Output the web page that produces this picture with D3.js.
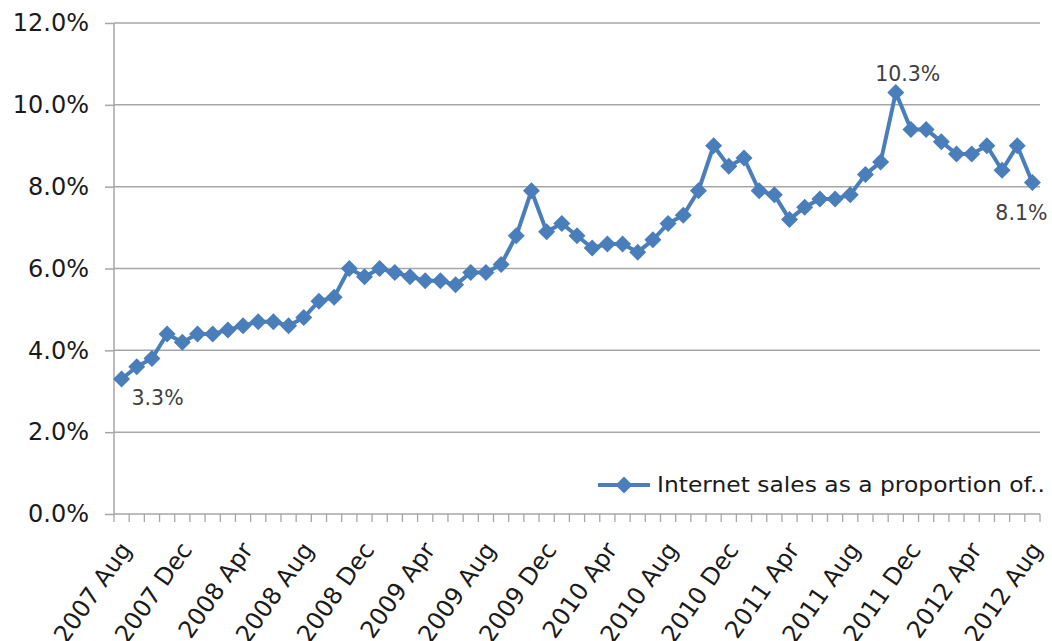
<!DOCTYPE html>
<html lang="en">
<head>
    <meta charset="UTF-8">
    <title>Internet sales</title>
    <script src="https://d3js.org/d3.v7.min.js"></script>
    <style>
        body { margin: 0; background: #fff; }
        text { font-family: "DejaVu Sans", Verdana, sans-serif; }
    </style>
</head>
<body>
    <svg></svg>

    <script>
        // months on the category axis
        const months = [
            "2007 Aug","2007 Sep","2007 Oct","2007 Nov","2007 Dec",
            "2008 Jan","2008 Feb","2008 Mar","2008 Apr","2008 May","2008 Jun","2008 Jul","2008 Aug","2008 Sep","2008 Oct","2008 Nov","2008 Dec",
            "2009 Jan","2009 Feb","2009 Mar","2009 Apr","2009 May","2009 Jun","2009 Jul","2009 Aug","2009 Sep","2009 Oct","2009 Nov","2009 Dec",
            "2010 Jan","2010 Feb","2010 Mar","2010 Apr","2010 May","2010 Jun","2010 Jul","2010 Aug","2010 Sep","2010 Oct","2010 Nov","2010 Dec",
            "2011 Jan","2011 Feb","2011 Mar","2011 Apr","2011 May","2011 Jun","2011 Jul","2011 Aug","2011 Sep","2011 Oct","2011 Nov","2011 Dec",
            "2012 Jan","2012 Feb","2012 Mar","2012 Apr","2012 May","2012 Jun","2012 Jul","2012 Aug"
        ];
        // internet sales share, percent
        const share = [
            3.3, 3.6, 3.8, 4.4, 4.2,
            4.4, 4.4, 4.5, 4.6, 4.7, 4.7, 4.6, 4.8, 5.2, 5.3, 6.0, 5.8,
            6.0, 5.9, 5.8, 5.7, 5.7, 5.6, 5.9, 5.9, 6.1, 6.8, 7.9, 6.9,
            7.1, 6.8, 6.5, 6.6, 6.6, 6.4, 6.7, 7.1, 7.3, 7.9, 9.0, 8.5,
            8.7, 7.9, 7.8, 7.2, 7.5, 7.7, 7.7, 7.8, 8.3, 8.6, 10.3, 9.4,
            9.4, 9.1, 8.8, 8.8, 9.0, 8.4, 9.0, 8.1
        ];
        const yTicks = [0, 2, 4, 6, 8, 10, 12];
        const xLabels = months.filter((d, i) => i % 4 === 0);
        const labelled = ["2007 Aug", "2011 Nov", "2012 Aug"];
        const seriesName = "Internet sales as a proportion of..";

        const width = 1052, height = 641;
        const margin = {top: 23, bottom: 127, left: 114, right: 12};
        const blue = "#4a7ebb", grid = "#a6a6a6";

        const svg = d3.select("svg")
            .attr("width", width)
            .attr("height", height)
            .attr("viewBox", [0, 0, width, height]);

        const x = d3.scaleBand().domain(months).range([margin.left, width - margin.right]).padding(0);
        const y = d3.scaleLinear().domain([0, 12]).range([height - margin.bottom, margin.top]);
        const cx = d => x(d) + x.bandwidth() / 2;

        // gridlines
        svg.append("g")
            .selectAll("line")
            .data(yTicks.filter(t => t > 0))
            .join("line")
            .attr("x1", margin.left).attr("x2", width - margin.right)
            .attr("y1", d => y(d)).attr("y2", d => y(d))
            .attr("stroke", grid).attr("stroke-width", 1.5);

        // y axis
        const yAxis = svg.append("g")
            .attr("transform", `translate(${margin.left},0)`)
            .call(d3.axisLeft(y).tickValues(yTicks).tickSize(9).tickPadding(16).tickFormat(d => d.toFixed(1) + "%"));
        yAxis.selectAll("line, path").attr("stroke", grid).attr("stroke-width", 1.5);
        yAxis.select("path").attr("d", `M0,${y(0)}V${y(12)}`);
        yAxis.selectAll("text").attr("font-size", 24).attr("fill", "#1a1a1a")
            .attr("font-family", "DejaVu Sans");

        // x axis: ticks at category boundaries, labels every 4 months
        const base = y(0);
        const xg = svg.append("g");
        xg.append("line")
            .attr("x1", margin.left).attr("x2", width - margin.right)
            .attr("y1", base).attr("y2", base)
            .attr("stroke", grid).attr("stroke-width", 1.5);
        xg.selectAll("line.tick")
            .data(months.map(d => x(d)).concat([x.range()[1]]))
            .join("line")
            .attr("class", "tick")
            .attr("x1", d => d).attr("x2", d => d)
            .attr("y1", base).attr("y2", base + 8)
            .attr("stroke", grid).attr("stroke-width", 1.3);
        xg.selectAll("text")
            .data(xLabels)
            .join("text")
            .attr("transform", d => `translate(${cx(d) + 4},${base + 31}) rotate(-55)`)
            .attr("text-anchor", "end")
            .attr("dy", "0.35em")
            .attr("font-size", 24)
            .attr("fill", "#1a1a1a")
            .text(d => d);

        // series
        const line = d3.line().x((d, i) => cx(months[i])).y(d => y(d));
        svg.append("path")
            .datum(share)
            .attr("d", line)
            .attr("fill", "none")
            .attr("stroke", blue)
            .attr("stroke-width", 4)
            .attr("stroke-linejoin", "round");

        const r = 8.5;
        const diamond = `M0,${-r}L${r},0L0,${r}L${-r},0Z`;
        svg.append("g")
            .selectAll("path")
            .data(share)
            .join("path")
            .attr("transform", (d, i) => `translate(${cx(months[i])},${y(d)})`)
            .attr("d", diamond)
            .attr("fill", blue);

        // data labels
        const labelPos = {
            "2007 Aug": {dx: 36, dy: 26},
            "2011 Nov": {dx: 12, dy: -12},
            "2012 Aug": {dx: -11, dy: 37}
        };
        svg.append("g")
            .selectAll("text")
            .data(labelled)
            .join("text")
            .attr("x", d => cx(d) + labelPos[d].dx)
            .attr("y", d => y(share[months.indexOf(d)]) + labelPos[d].dy)
            .attr("text-anchor", "middle")
            .attr("font-size", 20.5)
            .attr("fill", "#404040")
            .text(d => share[months.indexOf(d)].toFixed(1) + "%");

        // legend
        const lg = svg.append("g").attr("transform", "translate(598,485)");
        lg.append("line").attr("x1", 0).attr("x2", 52)
            .attr("stroke", blue).attr("stroke-width", 4);
        lg.append("path").attr("transform", "translate(26,0)").attr("d", diamond).attr("fill", blue);
        lg.append("text").attr("x", 59).attr("dy", "0.35em")
            .attr("font-size", 21).attr("fill", "#1a1a1a")
            .attr("textLength", 388).attr("lengthAdjust", "spacingAndGlyphs")
            .text(seriesName);
    </script>
</body>
</html>
